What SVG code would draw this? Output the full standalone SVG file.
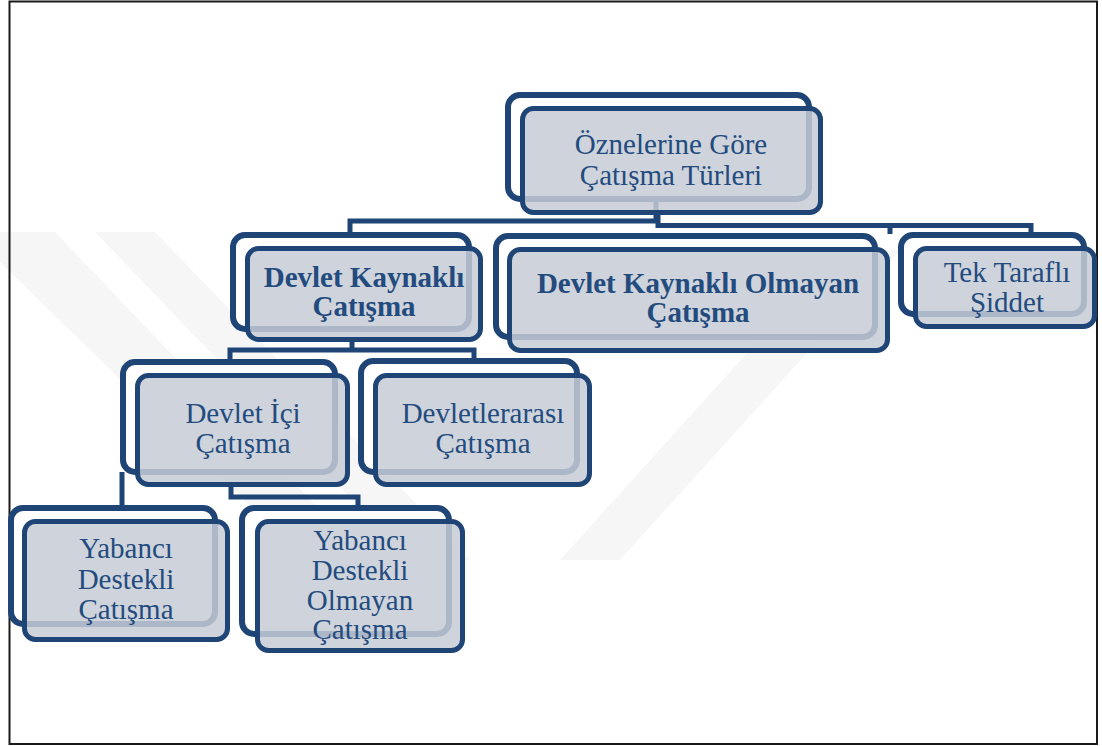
<svg xmlns="http://www.w3.org/2000/svg" width="1102" height="746" viewBox="0 0 1102 746">
  <style>
    .back { fill: #ffffff; stroke: #1f4577; stroke-width: 6; }
    .front { fill: #c6cbd6; fill-opacity: 0.85; stroke: #1f4577; stroke-width: 5; }
    .conn { fill: none; stroke: #1f4577; stroke-width: 5; stroke-linejoin: miter; }
    .t { font-family: "Liberation Serif", "DejaVu Serif", serif; font-size: 29px; fill: #234b7e; text-anchor: middle; }
    .b { font-weight: bold; }
    .wm { fill: #f6f6f6; }
  </style>
  <rect x="0" y="0" width="1102" height="746" fill="#ffffff"/>
  <g id="watermark">
    <polygon class="wm" points="0,232 55,232 330,520 300,555 0,262"/>
    <polygon class="wm" points="95,232 155,232 470,560 410,560"/>
    <polygon class="wm" points="560,560 620,560 900,250 840,250"/>
  </g>
  <rect id="frame" x="9.5" y="1.5" width="1087.5" height="742.5" fill="none" stroke="#1a1a1a" stroke-width="2"/>

  <g id="connectors">
    <path class="conn" d="M350,236 V221 H656 V200"/>
    <path class="conn" d="M658,213 V225.5 H1031 V235"/>
    <path class="conn" d="M890,225 V234"/>
    <path class="conn" d="M352,341 V350"/>
    <path class="conn" d="M230,362 V350 H474 V360"/>
    <path class="conn" d="M122,472 V508"/>
    <path class="conn" d="M231,486 V497 H358 V508"/>
  </g>

  <g id="node-root">
    <rect class="back" x="508" y="95" width="301" height="104" rx="12"/>
    <rect class="front" x="522.5" y="108.5" width="298" height="104" rx="11"/>
    <text class="t" x="671" y="154">Öznelerine Göre</text>
    <text class="t" x="671" y="185">Çatışma Türleri</text>
  </g>

  <g id="node-devlet-kaynakli">
    <rect class="back" x="233" y="235" width="236" height="94" rx="12"/>
    <rect class="front" x="247.5" y="248.5" width="233" height="91" rx="11"/>
    <text class="t b" x="364" y="287">Devlet Kaynaklı</text>
    <text class="t b" x="364" y="316">Çatışma</text>
  </g>

  <g id="node-devlet-kaynakli-olmayan">
    <rect class="back" x="496" y="236" width="379" height="101" rx="12"/>
    <rect class="front" x="509.5" y="249.5" width="378" height="101" rx="11"/>
    <text class="t b" x="698" y="293">Devlet Kaynaklı Olmayan</text>
    <text class="t b" x="698" y="322">Çatışma</text>
  </g>

  <g id="node-tek-tarafli">
    <rect class="back" x="901" y="235" width="183" height="79" rx="12"/>
    <rect class="front" x="915.5" y="248.5" width="179" height="78" rx="11"/>
    <text class="t" x="1007" y="282">Tek Taraflı</text>
    <text class="t" x="1007" y="312">Şiddet</text>
  </g>

  <g id="node-devlet-ici">
    <rect class="back" x="123" y="362" width="212" height="110" rx="12"/>
    <rect class="front" x="137.5" y="375.5" width="210" height="109" rx="11"/>
    <text class="t" x="243" y="423">Devlet İçi</text>
    <text class="t" x="243" y="453">Çatışma</text>
  </g>

  <g id="node-devletlerarasi">
    <rect class="back" x="361" y="361" width="216" height="111" rx="12"/>
    <rect class="front" x="375.5" y="375.5" width="214" height="109" rx="11"/>
    <text class="t" x="483" y="423">Devletlerarası</text>
    <text class="t" x="483" y="453">Çatışma</text>
  </g>

  <g id="node-yabanci-destekli">
    <rect class="back" x="11" y="508" width="204" height="116" rx="12"/>
    <rect class="front" x="24.5" y="521.5" width="203" height="118" rx="11"/>
    <text class="t" x="126" y="558">Yabancı</text>
    <text class="t" x="126" y="589">Destekli</text>
    <text class="t" x="126" y="619">Çatışma</text>
  </g>

  <g id="node-yabanci-destekli-olmayan">
    <rect class="back" x="242" y="508" width="207" height="126" rx="12"/>
    <rect class="front" x="257.5" y="521.5" width="205" height="129" rx="11"/>
    <text class="t" x="360" y="550">Yabancı</text>
    <text class="t" x="360" y="580">Destekli</text>
    <text class="t" x="360" y="610">Olmayan</text>
    <text class="t" x="360" y="639">Çatışma</text>
  </g>
</svg>
